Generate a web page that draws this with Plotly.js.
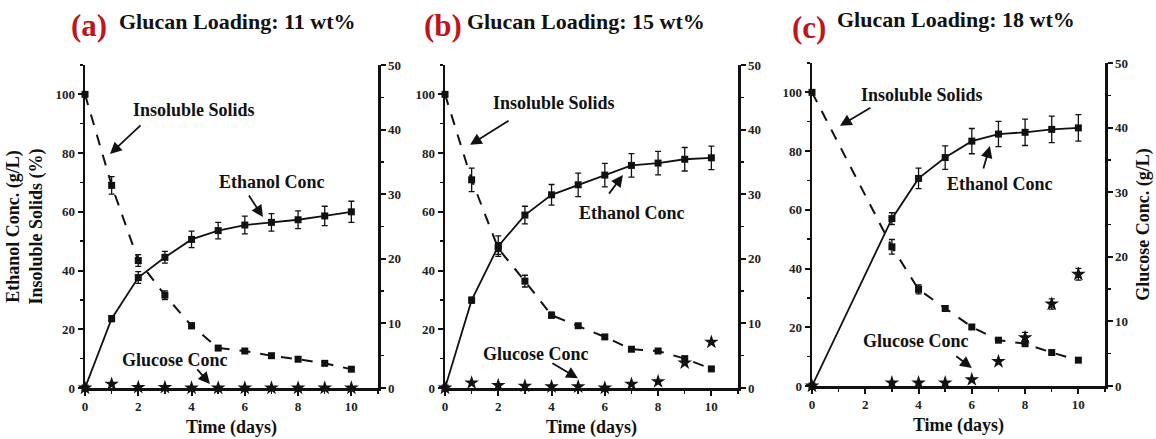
<!DOCTYPE html>
<html>
<head>
<meta charset="utf-8">
<script src="https://cdn.plot.ly/plotly-3.0.1.min.js"></script>
<style>
  html, body { margin: 0; padding: 0; background: #fff; }
  #chart { width: 1156px; height: 439px; }
</style>
</head>
<body>
<div id="chart"></div>
<script>
// Simultaneous saccharification and fermentation at three glucan loadings
const daysA = [0, 1, 2, 3, 4, 5, 6, 7, 8, 9, 10];
const ethanolA = [0, 23.6, 37.6, 44.5, 50.6, 53.6, 55.5, 56.4, 57.3, 58.6, 60.0];
const ethanolErrA = [0, 1, 2, 2, 2.8, 2.8, 3, 3, 3, 3.3, 3.6];
const solidsA = [100, 69, 43.4, 31.6, 21.2, 13.6, 12.6, 11, 9.8, 8.4, 6.4];
const solidsErrA = [0, 3, 2, 1.5, 1, 0.5, 0.5, 0.5, 0.5, 0.5, 0.5];
const glucoseA = [0, 0.6, 0.1, 0.1, 0, 0, 0, 0, 0, 0, 0];

const daysB = [0, 1, 2, 3, 4, 5, 6, 7, 8, 9, 10];
const ethanolB = [0, 29.9, 48.3, 58.9, 65.8, 69.2, 72.5, 75.8, 76.6, 77.9, 78.4];
const ethanolErrB = [0, 1, 3.5, 3, 3.5, 4, 4, 4, 4, 4, 4];
const solidsB = [100, 70.9, 47.5, 36.4, 24.8, 21.2, 17.4, 13.2, 12.6, 10, 6.5];
const solidsErrB = [0, 4, 2, 2, 1, 0.5, 0.5, 0.5, 0.5, 0.5, 0.5];
const glucoseB = [0, 0.8, 0.4, 0.3, 0.2, 0.2, 0, 0.6, 1.0, 3.9, 7.1];

const daysC = [0, 3, 4, 5, 6, 7, 8, 9, 10];
const ethanolC = [0, 57.0, 70.7, 77.8, 83.4, 85.8, 86.4, 87.4, 87.9];
const ethanolErrC = [0, 2, 3.5, 4, 4.3, 4.3, 4.5, 4.5, 4.5];
const solidsC = [100, 47.4, 32.9, 26.4, 20.1, 15.6, 14.4, 11.4, 8.8];
const solidsErrC = [0, 2.5, 1.5, 1, 0.5, 0.5, 0.5, 0.5, 0.5];
const glucoseC = [0, 0.5, 0.5, 0.5, 1.0, 3.8, 7.5, 12.7, 17.3];
const glucoseErrC = [0, 0, 0, 0, 0, 0, 0.8, 0.8, 0.9];

const panelTags = ['(a)', '(b)', '(c)'];
const panelTitles = ['Glucan Loading: 11 wt%', 'Glucan Loading: 15 wt%', 'Glucan Loading: 18 wt%'];
const leftTicks = [0, 20, 40, 60, 80, 100];
const rightTicks = [0, 10, 20, 30, 40, 50];
const timeTicks = [0, 2, 4, 6, 8, 10];

const SERIF = 'Liberation Serif, Times New Roman, serif';
const W = 1156, H = 439;
const px = v => v / W;
const py = v => 1 - v / H;

function ethanolTrace(x, y, err, xa, ya) {
  return {
    x: x, y: y, xaxis: xa, yaxis: ya, type: 'scatter', mode: 'lines+markers',
    line: { color: '#111', width: 1.8 },
    marker: { symbol: 'square', size: 7, color: '#111' },
    error_y: { type: 'data', array: err, visible: true, color: '#111', thickness: 1.3, width: 3 },
    cliponaxis: false, showlegend: false, hoverinfo: 'x+y'
  };
}
function solidsTrace(x, y, err, xa, ya) {
  return {
    x: x, y: y, xaxis: xa, yaxis: ya, type: 'scatter', mode: 'lines+markers',
    line: { color: '#111', width: 2, dash: '11px,10px' },
    marker: { symbol: 'square', size: 7, color: '#111' },
    error_y: { type: 'data', array: err, visible: true, color: '#111', thickness: 1.3, width: 3 },
    cliponaxis: false, showlegend: false, hoverinfo: 'x+y'
  };
}
function glucoseTrace(x, y, err, xa, ya) {
  const t = {
    x: x, y: y, xaxis: xa, yaxis: ya, type: 'scatter', mode: 'markers',
    marker: { symbol: 'star', size: 11, color: '#111' },
    cliponaxis: false, showlegend: false, hoverinfo: 'x+y'
  };
  if (err) t.error_y = { type: 'data', array: err, visible: true, color: '#111', thickness: 1.3, width: 3 };
  return t;
}

const data = [
  ethanolTrace(daysA, ethanolA, ethanolErrA, 'x', 'y'),
  solidsTrace(daysA, solidsA, solidsErrA, 'x', 'y'),
  glucoseTrace(daysA, glucoseA, null, 'x', 'y2'),
  ethanolTrace(daysB, ethanolB, ethanolErrB, 'x2', 'y3'),
  solidsTrace(daysB, solidsB, solidsErrB, 'x2', 'y3'),
  glucoseTrace(daysB, glucoseB, null, 'x2', 'y4'),
  ethanolTrace(daysC, ethanolC, ethanolErrC, 'x3', 'y5'),
  solidsTrace(daysC, solidsC, solidsErrC, 'x3', 'y5'),
  glucoseTrace(daysC, glucoseC, glucoseErrC, 'x3', 'y6')
];

const tickFont = { family: SERIF, size: 13, color: '#222', weight: 'bold' };
const titleFont = { family: SERIF, size: 18, color: '#111', weight: 'bold' };

function xAxis(domain, anchor) {
  return {
    domain: domain, anchor: anchor, range: [0, 11],
    tickvals: timeTicks, ticks: 'outside', ticklen: 5, tickwidth: 2, tickcolor: '#111',
    minor: { dtick: 1, tick0: 0, ticks: 'outside', ticklen: 3, tickwidth: 1.5, tickcolor: '#111' },
    showline: true, linecolor: '#111', linewidth: 2.5, showgrid: false, zeroline: false,
    tickfont: tickFont,
    title: { text: 'Time (days)', font: titleFont, standoff: 8 }
  };
}
function leftAxis(domain, anchor, title) {
  const ax = {
    domain: domain, anchor: anchor, range: [0, 110],
    tickvals: leftTicks, ticks: 'outside', ticklen: 5, tickwidth: 2, tickcolor: '#111',
    minor: { dtick: 10, tick0: 0, ticks: 'outside', ticklen: 3, tickwidth: 1.5, tickcolor: '#111' },
    showline: true, linecolor: '#111', linewidth: 2.5, showgrid: false, zeroline: false,
    tickfont: tickFont
  };
  if (title) ax.title = { text: title, font: titleFont, standoff: 8 };
  return ax;
}
function rightAxis(overlay, anchor, title) {
  const ax = {
    overlaying: overlay, anchor: anchor, side: 'right', range: [0, 50],
    tickvals: rightTicks, ticks: 'outside', ticklen: 5, tickwidth: 2, tickcolor: '#111',
    minor: { dtick: 5, tick0: 0, ticks: 'outside', ticklen: 3, tickwidth: 1.5, tickcolor: '#111' },
    showline: true, linecolor: '#111', linewidth: 2.5, showgrid: false, zeroline: false,
    tickfont: tickFont
  };
  if (title) ax.title = { text: title, font: titleFont, standoff: 10 };
  return ax;
}

const domA = [px(85), px(378)], domB = [px(445), px(738)], domC = [px(812), px(1105)];
const yDomAB = [py(388), py(65)], yDomC = [py(386), py(63)];

const labelFont = { family: SERIF, size: 18, color: '#111', weight: 'bold' };

function note(text, xr, yr, x, y) {
  return { text: text, xref: xr, yref: yr, x: x, y: y, showarrow: false,
           xanchor: 'center', yanchor: 'middle', font: labelFont };
}
function arrow(xr, yr, x, y, ax, ay) {
  return { text: '', xref: xr, yref: yr, x: x, y: y, ax: ax, ay: ay,
           showarrow: true, arrowhead: 2, arrowsize: 1.3, arrowwidth: 1.8, arrowcolor: '#111' };
}
function tag(text, x, y) {
  return { text: text, xref: 'paper', yref: 'paper', x: px(x), y: py(y), showarrow: false,
           xanchor: 'center', yanchor: 'middle',
           font: { family: SERIF, size: 31, color: '#c0151a', weight: 'bold' } };
}
function heading(text, x, y) {
  return { text: text, xref: 'paper', yref: 'paper', x: px(x), y: py(y), showarrow: false,
           xanchor: 'left', yanchor: 'middle',
           font: { family: SERIF, size: 22, color: '#111', weight: 'bold' } };
}

const annotations = [
  tag(panelTags[0], 89, 25), heading(panelTitles[0], 117, 22),
  tag(panelTags[1], 443, 25), heading(panelTitles[1], 465, 22),
  tag(panelTags[2], 809, 27), heading(panelTitles[2], 835, 20),

  note('Insoluble Solids', 'x', 'y', 4.09, 94.7),
  arrow('x', 'y', 0.94, 79.7, 32, -30),
  note('Ethanol Conc', 'x', 'y', 7.02, 70.2),
  arrow('x', 'y', 6.68, 58.2, -15, -23),
  note('Glucose Conc', 'x', 'y', 3.38, 9.5),
  arrow('x', 'y', 4.69, 1.4, -14, -16),

  note('Insoluble Solids', 'x2', 'y3', 4.09, 96.9),
  arrow('x2', 'y3', 0.94, 82.8, 40, -25),
  note('Ethanol Conc', 'x2', 'y3', 7.02, 59.6),
  arrow('x2', 'y3', 6.68, 72.5, -15, 20),
  note('Glucose Conc', 'x2', 'y3', 3.42, 11.5),
  arrow('x2', 'y3', 4.99, 3.3, -27, -16),

  note('Insoluble Solids', 'x3', 'y5', 4.13, 99),
  arrow('x3', 'y5', 1.05, 88.6, 32, -19),
  note('Ethanol Conc', 'x3', 'y5', 7.06, 68.8),
  arrow('x3', 'y5', 6.68, 81.7, -7, 24),
  note('Glucose Conc', 'x3', 'y5', 3.9, 15.3),
  arrow('x3', 'y5', 6.0, 6.1, -17, -13)
];

const layout = {
  width: W, height: H,
  margin: { l: 0, r: 0, t: 0, b: 0 },
  paper_bgcolor: '#fff', plot_bgcolor: '#fff',
  showlegend: false,
  font: { family: SERIF, color: '#111' },
  xaxis: xAxis(domA, 'y'),
  yaxis: leftAxis(yDomAB, 'x', 'Ethanol Conc. (g/L)<br>Insoluble Solids (%)'),
  yaxis2: rightAxis('y', 'x', null),
  xaxis2: xAxis(domB, 'y3'),
  yaxis3: leftAxis(yDomAB, 'x2', null),
  yaxis4: rightAxis('y3', 'x2', null),
  xaxis3: xAxis(domC, 'y5'),
  yaxis5: leftAxis(yDomC, 'x3', null),
  yaxis6: rightAxis('y5', 'x3', 'Glucose Conc. (g/L)'),
  annotations: annotations
};

Plotly.newPlot('chart', data, layout, { staticPlot: true, displayModeBar: false });
</script>
</body>
</html>
